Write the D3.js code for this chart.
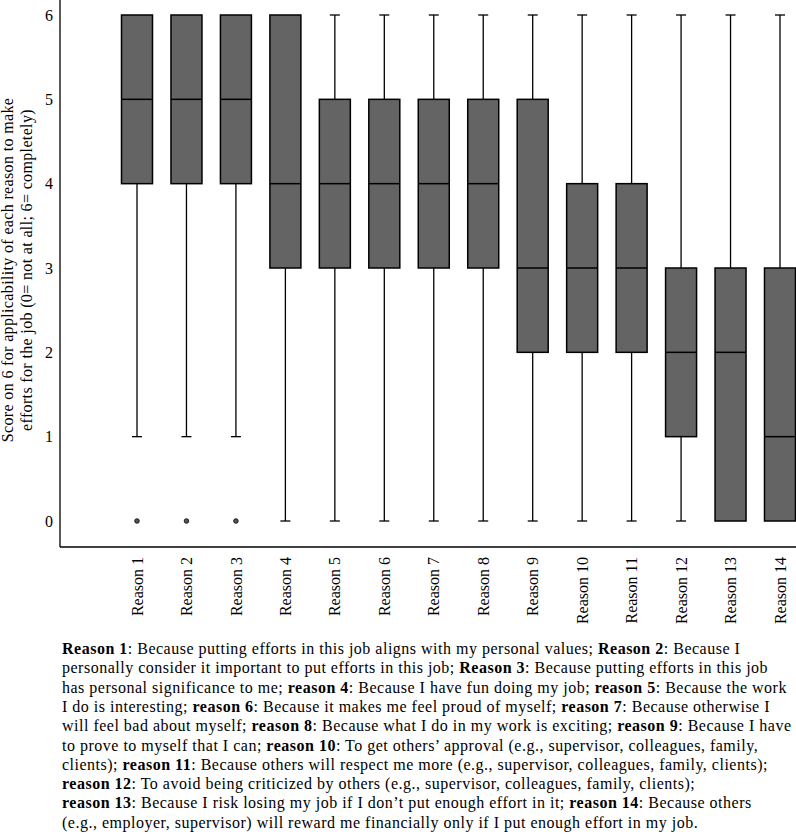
<!DOCTYPE html>
<html>
<head>
<meta charset="utf-8">
<script src="https://cdn.jsdelivr.net/npm/d3@7/dist/d3.min.js"></script>
<style>
  html, body { margin: 0; padding: 0; background: #fff; }
  svg { display: block; }
  text { font-family: "Liberation Serif", "Times New Roman", serif; fill: #000; }
</style>
</head>
<body>
<script>
// ---- data ----
const categories = ["Reason 1","Reason 2","Reason 3","Reason 4","Reason 5","Reason 6","Reason 7",
  "Reason 8","Reason 9","Reason 10","Reason 11","Reason 12","Reason 13","Reason 14"];
const whiskerLow  = [1,1,1,0,0,0,0,0,0,0,0,0,0,0];
const q1          = [4,4,4,3,3,3,3,3,2,2,2,1,0,0];
const median      = [5,5,5,4,4,4,4,4,3,3,3,2,2,1];
const q3          = [6,6,6,6,5,5,5,5,5,4,4,3,3,3];
const whiskerHigh = [6,6,6,6,6,6,6,6,6,6,6,6,6,6];
const outliers    = [[0],[0],[0],[],[],[],[],[],[],[],[],[],[],[]];
const yTicks = [0,1,2,3,4,5,6];
const yLabelLines = ["Score on 6 for applicability of each reason to make",
                     "efforts for the job (0= not at all; 6= completely)"];
const captionLines = [
  "**Reason 1**: Because putting efforts in this job aligns with my personal values; **Reason 2**: Because I",
  "personally consider it important to put efforts in this job; **Reason 3**: Because putting efforts in this job",
  "has personal significance to me; **reason 4**: Because I have fun doing my job; **reason 5**: Because the work",
  "I do is interesting; **reason 6**: Because it makes me feel proud of myself; **reason 7**: Because otherwise I",
  "will feel bad about myself; **reason 8**: Because what I do in my work is exciting; **reason 9**: Because I have",
  "to prove to myself that I can; **reason 10**: To get others\u2019 approval (e.g., supervisor, colleagues, family,",
  "clients); **reason 11**: Because others will respect me more (e.g., supervisor, colleagues, family, clients);",
  "**reason 12**: To avoid being criticized by others (e.g., supervisor, colleagues, family, clients);",
  "**reason 13**: Because I risk losing my job if I don\u2019t put enough effort in it; **reason 14**: Because others",
  "(e.g., employer, supervisor) will reward me financially only if I put enough effort in my job."
];

// ---- layout ----
const W = 796, H = 840;
const axisX = 60, axisY = 547;
const svg = d3.select("body").append("svg").attr("width", W).attr("height", H);

const x = d3.scalePoint().domain(categories).range([137, 780]);
const y = d3.scaleLinear().domain([0, 6]).range([521, 15]);
const boxW = 31, capW = 10;
const fill = "#646464";

const data = categories.map((c, i) => ({
  c, lo: whiskerLow[i], q1: q1[i], med: median[i], q3: q3[i], hi: whiskerHigh[i], out: outliers[i]
}));

// axes lines
svg.append("line").attr("x1", axisX).attr("x2", axisX).attr("y1", 0).attr("y2", axisY)
  .attr("stroke", "#000").attr("stroke-width", 1.3);
svg.append("line").attr("x1", axisX).attr("x2", W).attr("y1", axisY).attr("y2", axisY)
  .attr("stroke", "#000").attr("stroke-width", 1.3);

// y tick labels
svg.append("g").selectAll("text").data(yTicks).join("text")
  .attr("x", 53).attr("y", d => y(d)).attr("dy", "0.35em")
  .attr("text-anchor", "end").attr("font-size", 16).text(d => d);

// y axis title
svg.append("g").selectAll("text").data(yLabelLines).join("text")
  .attr("transform", (d, i) => `translate(${12.5 + i * 19.5},${y(3) + 2}) rotate(-90)`)
  .attr("text-anchor", "middle").attr("font-size", 16).attr("letter-spacing", 0.35).text(d => d);

// x labels
svg.append("g").selectAll("text").data(categories).join("text")
  .attr("transform", d => `translate(${x(d)},557) rotate(-90)`)
  .attr("dy", "0.35em").attr("text-anchor", "end").attr("font-size", 16).text(d => d);

// boxes
const g = svg.append("g").selectAll("g").data(data).join("g");
// whiskers
g.filter(d => d.hi > d.q3).append("line")
  .attr("x1", d => x(d.c)).attr("x2", d => x(d.c)).attr("y1", d => y(d.q3)).attr("y2", d => y(d.hi))
  .attr("stroke", "#000").attr("stroke-width", 1.3);
g.filter(d => d.hi > d.q3).append("line")
  .attr("x1", d => x(d.c) - capW / 2).attr("x2", d => x(d.c) + capW / 2).attr("y1", d => y(d.hi)).attr("y2", d => y(d.hi))
  .attr("stroke", "#000").attr("stroke-width", 1.3);
g.filter(d => d.lo < d.q1).append("line")
  .attr("x1", d => x(d.c)).attr("x2", d => x(d.c)).attr("y1", d => y(d.q1)).attr("y2", d => y(d.lo))
  .attr("stroke", "#000").attr("stroke-width", 1.3);
g.filter(d => d.lo < d.q1).append("line")
  .attr("x1", d => x(d.c) - capW / 2).attr("x2", d => x(d.c) + capW / 2).attr("y1", d => y(d.lo)).attr("y2", d => y(d.lo))
  .attr("stroke", "#000").attr("stroke-width", 1.3);
// box
g.append("rect")
  .attr("x", d => x(d.c) - boxW / 2).attr("width", boxW)
  .attr("y", d => y(d.q3)).attr("height", d => y(d.q1) - y(d.q3))
  .attr("fill", fill).attr("stroke", "#000").attr("stroke-width", 1.5);
// median
g.append("line")
  .attr("x1", d => x(d.c) - boxW / 2).attr("x2", d => x(d.c) + boxW / 2)
  .attr("y1", d => y(d.med)).attr("y2", d => y(d.med))
  .attr("stroke", "#000").attr("stroke-width", 1.5);
// outliers
g.selectAll("circle").data(d => d.out.map(v => ({ c: d.c, v }))).join("circle")
  .attr("cx", d => x(d.c)).attr("cy", d => y(d.v)).attr("r", 2.3)
  .attr("fill", "#555").attr("stroke", "#000").attr("stroke-width", 0.8);

// caption
const cap = svg.append("g");
captionLines.forEach((line, i) => {
  const t = cap.append("text").attr("x", 62).attr("y", 654 + i * 19.3)
    .attr("font-size", 16).attr("letter-spacing", 0.5);
  line.split("**").forEach((seg, j) => {
    if (!seg) return;
    t.append("tspan").attr("font-weight", j % 2 ? "bold" : "normal").text(seg);
  });
});
</script>
</body>
</html>
